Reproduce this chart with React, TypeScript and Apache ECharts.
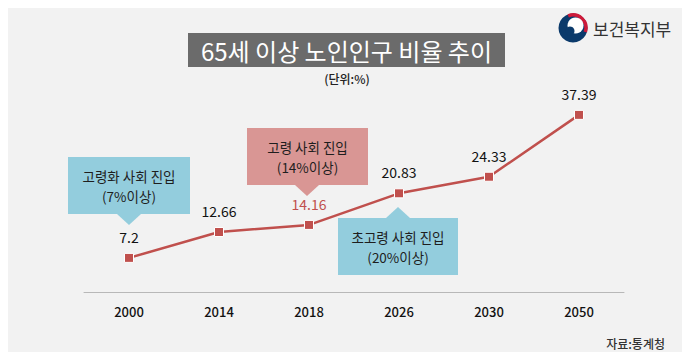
import React, { useEffect, useRef } from "react";
import * as echarts from "echarts";

const categories = ["2000", "2014", "2018", "2026", "2030", "2050"];
const values = [7.2, 12.66, 14.16, 20.83, 24.33, 37.39];
const highlightIndex = 2;

const titleText = "65세 이상 노인인구 비율 추이";
const unitText = "(단위:%)";
const sourceText = "자료:통계청";
const logoText = "보건복지부";
const callouts = [
  { line1: "고령화 사회 진입", line2: "(7%이상)" },
  { line1: "고령 사회 진입", line2: "(14%이상)" },
  { line1: "초고령 사회 진입", line2: "(20%이상)" },
];

const FONT = "'Noto Sans CJK KR', 'Noto Sans', sans-serif";
const BLUE = "#93cddd";
const PINK = "#d99694";
const RED = "#c0504d";

function callout(x0: number, y0: number, w: number, h: number, color: string, tipX: number, up: boolean, l1: string, l2: string) {
  const tri = up
    ? [[tipX - 12, y0], [tipX + 12, y0], [tipX, y0 - 11]]
    : [[tipX - 12, y0 + h], [tipX + 12, y0 + h], [tipX, y0 + h + 11]];
  const cx = x0 + w / 2;
  return [
    { type: "rect", shape: { x: x0, y: y0, width: w, height: h }, style: { fill: color } },
    { type: "polygon", shape: { points: tri }, style: { fill: color } },
    {
      type: "text", x: cx, y: y0 + h / 2 - 9.5,
      style: { text: l1, fill: "#1e1e1e", font: `13.5px ${FONT}`, align: "center", verticalAlign: "middle" },
    },
    {
      type: "text", x: cx, y: y0 + h / 2 + 10,
      style: { text: l2, fill: "#1e1e1e", font: `13.5px ${FONT}`, align: "center", verticalAlign: "middle" },
    },
  ];
}

export default function App() {
  const ref = useRef<HTMLDivElement>(null);
  useEffect(() => {
    if (!ref.current) return;
    const chart = echarts.init(ref.current, null, { renderer: "svg" });
    const graphic: any[] = [
      { type: "rect", shape: { x: 188, y: 33, width: 317, height: 34 }, style: { fill: "#6b6b6b" } },
      {
        type: "text", x: 346.5, y: 50,
        style: { text: titleText, fill: "#fff", font: `24px ${FONT}`, align: "center", verticalAlign: "middle" },
      },
      {
        type: "text", x: 347, y: 78,
        style: { text: unitText, fill: "#222", font: `500 12px ${FONT}`, align: "center", verticalAlign: "middle" },
      },
      {
        type: "text", x: 665, y: 343,
        style: { text: sourceText, fill: "#333", font: `500 12px ${FONT}`, align: "right", verticalAlign: "middle" },
      },
      // logo
      { type: "circle", shape: { cx: 573, cy: 28, r: 14.5 }, style: { fill: "#0b3a6b" } },
      { type: "arc", shape: { cx: 573, cy: 28, r: 13, startAngle: -Math.PI * 0.62, endAngle: Math.PI * 0.1 }, style: { stroke: "#cd1a3a", lineWidth: 3.5, fill: "none" } },
      { type: "circle", shape: { cx: 575.5, cy: 25.5, r: 8 }, style: { fill: "#ffffff" } },
      { type: "circle", shape: { cx: 570, cy: 31, r: 4.5 }, style: { fill: "#0b3a6b" } },
      { type: "circle", shape: { cx: 579, cy: 23, r: 3.5 }, style: { fill: "#ffffff" } },
      {
        type: "text", x: 593, y: 28,
        style: { text: logoText, fill: "#333", font: `17px ${FONT}`, align: "left", verticalAlign: "middle" },
      },
      ...callout(68, 157, 122, 57, BLUE, 129, false, callouts[0].line1, callouts[0].line2),
      ...callout(247, 128, 121, 57, PINK, 307, false, callouts[1].line1, callouts[1].line2),
      ...callout(338, 218, 120, 57, BLUE, 398, true, callouts[2].line1, callouts[2].line2),
    ];
    chart.setOption({
      animation: false,
      backgroundColor: "#f2f2f2",
      textStyle: { fontFamily: FONT },
      grid: { left: 84, right: 66, top: 102.5, bottom: 68 },
      xAxis: {
        type: "category",
        data: categories,
        boundaryGap: true,
        axisLine: { lineStyle: { color: "#b8b8b8", width: 1 } },
        axisTick: { show: false },
        axisLabel: { color: "#111", fontSize: 13, fontWeight: 500, margin: 13, fontFamily: FONT },
      },
      yAxis: { type: "value", min: 0, max: 40, show: false, splitLine: { show: false } },
      series: [
        {
          type: "line",
          data: values.map((v, i) =>
            i === highlightIndex ? { value: v, label: { color: RED } } : { value: v }
          ),
          symbol: "rect",
          symbolSize: 9,
          lineStyle: { color: RED, width: 2.5 },
          itemStyle: { color: RED, borderColor: "#ffffff", borderWidth: 1 },
          label: { show: true, position: "top", distance: 9, color: "#111", fontSize: 14, fontFamily: FONT },
          z: 3,
        },
      ],
      graphic,
    });
    return () => chart.dispose();
  }, []);
  return <div ref={ref} style={{ width: 690, height: 360, margin: -8 }} />;
}
